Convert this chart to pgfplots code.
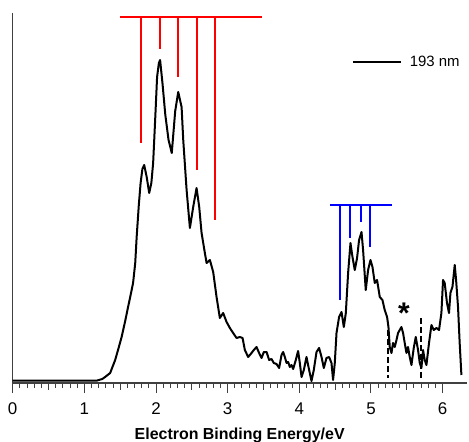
\documentclass[border=0pt]{standalone}
\usepackage{fontspec}
\setmainfont{Liberation Sans}
\usepackage{pgfplots}
\pgfplotsset{compat=1.18}

% photoelectron spectrum, 193 nm
\pgfplotstableread{
x y
0.00 2.5
1.18 2.5
1.25 4
1.29 6
1.36 10
1.43 23
1.47 33
1.52 46
1.57 62
1.61 76
1.64 86
1.68 100
1.71 120
1.73 146
1.76 178
1.785 200
1.81 214
1.835 218
1.87 206
1.905 190
1.935 200
1.96 220
1.99 266
2.015 306
2.04 320
2.057 323
2.09 300
2.13 268
2.175 243
2.22 230
2.268 272
2.31 291
2.357 276
2.38 243
2.427 193
2.473 155
2.519 176
2.566 195
2.603 176
2.636 150
2.682 130
2.706 120
2.752 123
2.798 111
2.845 86
2.891 65
2.937 70
2.985 61
3.031 55
3.077 50
3.124 45
3.17 46
3.208 45
3.24 33
3.286 26
3.333 30
3.365 33
3.403 36
3.439 30
3.473 25
3.505 31
3.543 31
3.579 23
3.612 24
3.644 20
3.682 19
3.718 15
3.752 28
3.774 31
3.798 26
3.822 20
3.844 21
3.868 16
3.891 18
3.914 14
3.951 23
3.983 32
4.007 20
4.031 6
4.063 13
4.100 26
4.137 13
4.170 2
4.202 13
4.240 31
4.276 35
4.310 26
4.342 15
4.379 25
4.416 26
4.449 20
4.471 3
4.495 20
4.519 50
4.555 66
4.589 71
4.621 56
4.649 70
4.681 110
4.714 140
4.742 126
4.774 113
4.806 125
4.834 143
4.868 151
4.890 133
4.927 93
4.960 113
4.993 123
5.021 116
5.053 100
5.085 103
5.123 86
5.160 83
5.192 73
5.225 66
5.244 56
5.262 36
5.286 30
5.308 40
5.332 36
5.356 43
5.378 50
5.425 56
5.448 50
5.471 40
5.495 30
5.517 36
5.541 26
5.565 18
5.597 35
5.625 46
5.657 33
5.681 20
5.704 15
5.727 33
5.750 23
5.774 18
5.810 40
5.844 58
5.876 53
5.914 55
5.950 53
5.983 70
6.006 103
6.029 100
6.061 80
6.089 70
6.109 90
6.137 96
6.169 118
6.188 103
6.215 76
6.238 40
6.262 8
}\spectrum

\begin{document}
\begin{tikzpicture}
\begin{axis}[
  name=ax,
  scale only axis,
  width=454bp, height=370bp,
  xmin=0, xmax=6.336, ymin=0, ymax=370,
  axis x line=bottom, axis y line=left,
  axis line style={-, black!75, line width=1.5bp},
  ytick=\empty,
  xtick={0,...,6},
  minor x tick num=9,
  extra x ticks={0.5,1.5,2.5,3.5,4.5,5.5},
  extra x tick labels={},
  extra x tick style={major tick length=7bp},
  tick align=outside,
  major tick length=10bp, minor tick length=5bp,
  tick style={black!75, line width=1bp},
  /pgf/number format/assume math mode=true,
  ticklabel style={font=\fontsize{17}{20}\selectfont},
  xticklabel style={yshift=-6bp},
  xlabel={Electron Binding Energy/eV},
  xlabel style={font=\bfseries\fontsize{16}{19}\selectfont, yshift=10bp},
  legend style={draw=none, fill=none, at={(0.74,0.867)}, anchor=west,
    font=\fontsize{15}{18}\selectfont},
  legend image code/.code={\draw[#1] (0bp,0bp) -- (48bp,0bp); \path (54bp,0bp);},
  clip=false,
]
\addplot[black, line width=2bp, line join=round] table[x=x, y=y] {\spectrum};
\addlegendentry{193 nm}

% red comb
\addplot[red, line width=2bp, forget plot] coordinates {(1.497,366.3) (3.473,366.3)};
\addplot[red, line width=2bp, forget plot] coordinates {(1.794,366.3) (1.794,239.7)};
\addplot[red, line width=2bp, forget plot] coordinates {(2.054,366.3) (2.054,333.7)};
\addplot[red, line width=2bp, forget plot] coordinates {(2.305,366.3) (2.305,306.3)};
\addplot[red, line width=2bp, forget plot] coordinates {(2.566,366.3) (2.566,213)};
\addplot[red, line width=2bp, forget plot] coordinates {(2.817,366.3) (2.817,163)};

% blue comb
\addplot[blue, line width=2bp, forget plot] coordinates {(4.435,178.3) (5.30,178.3)};
\addplot[blue, line width=2bp, forget plot] coordinates {(4.569,178.3) (4.569,83)};
\addplot[blue, line width=2bp, forget plot] coordinates {(4.704,178.3) (4.704,144.7)};
\addplot[blue, line width=2bp, forget plot] coordinates {(4.854,178.3) (4.854,160.7)};
\addplot[blue, line width=2bp, forget plot] coordinates {(4.987,178.3) (4.987,135.7)};

% dashed markers
\addplot[black, line width=1.4bp, dash pattern=on 6bp off 3bp, forget plot] coordinates {(5.24,53) (5.24,5)};
\addplot[black, line width=1.4bp, dash pattern=on 6bp off 3bp, forget plot] coordinates {(5.70,65) (5.70,5)};

\node[font=\bfseries\fontsize{30}{30}\selectfont] at (axis cs:5.46,70) {*};
\end{axis}
\pgfresetboundingbox
\path[use as bounding box] ([shift={(-12.7bp,-59bp)}]ax.south west) rectangle ([shift={(2.3bp,13bp)}]ax.north east);
\end{tikzpicture}
\end{document}
